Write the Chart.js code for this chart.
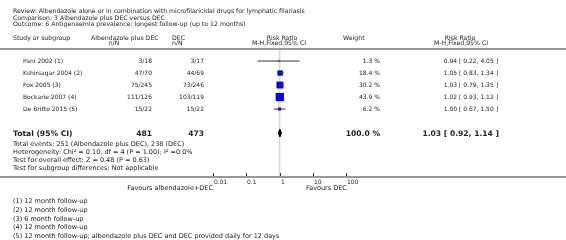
<!DOCTYPE html>
<html lang="en">
<head>
    <meta charset="UTF-8">
    <title>Antigenaemia prevalence forest plot</title>
    <script src="https://cdn.jsdelivr.net/npm/chart.js"></script>
    <style>
        body {
        margin: 0;
        padding: 0;
        background: #fff;
        }
        #wrap {
        position: relative;
        width: 566px;
        height: 240px;
        overflow: hidden;
        font-family: "DejaVu Sans", sans-serif;
        color: #222;
        }
        #plot {
        position: absolute;
        left: 0;
        top: 0;
        }
        .t {
        position: absolute;
        white-space: nowrap;
        font-size: 6px;
        line-height: 8px;
        }
        .h {
        font-size: 6.2px;
        }
        .s {
        font-size: 6.5px;
        }
        .b {
        font-size: 7.6px;
        font-weight: bold;
        line-height: 10px;
        }
    </style>
</head>
<body>
<div id="wrap">
    <canvas id="plot" width="566" height="240"></canvas>
</div>

<script>
    // study rows
    const studies = ['Pani 2002 (1)', 'Kshirsagar 2004 (2)', 'Fox 2005 (3)', 'Bockarie 2007 (4)', 'De Britto 2015 (5)'];
    const albEvents = [3, 47, 75, 111, 15];
    const albTotal = [18, 70, 245, 126, 22];
    const decEvents = [3, 44, 73, 103, 15];
    const decTotal = [17, 69, 246, 119, 22];
    const weights = [1.3, 18.4, 30.2, 43.9, 6.2];
    const ratios = [0.94, 1.05, 1.03, 1.02, 1.00];
    const ciLow = [0.22, 0.83, 0.79, 0.93, 0.67];
    const ciHigh = [4.05, 1.34, 1.35, 1.12, 1.50];

    // pooled result
    const totalAlb = 481;
    const totalDec = 473;
    const totalWeight = 100.0;
    const pooledRatio = 1.03;
    const pooledLow = 0.92;
    const pooledHigh = 1.14;

    const tickValues = [0.01, 0.1, 1, 10, 100];
    const tickLabels = ['0.01', '0.1', '1', '10', '100'];

    const headerLines = [
        'Review:  Albendazole alone or in combination with microfilaricidal drugs for lymphatic filariasis',
        'Comparison:  3 Albendazole plus DEC versus DEC',
        'Outcome:  6 Antigenaemia prevalence: longest follow-up (up to 12 months)'
    ];
    const summaryLines = [
        'Total events: 251 (Albendazole plus DEC), 238 (DEC)',
        'Heterogeneity: Chi² = 0.10, df = 4 (P = 1.00); I² =0.0%',
        'Test for overall effect: Z = 0.48 (P = 0.63)',
        'Test for subgroup differences: Not applicable'
    ];
    const footnotes = [
        '(1) 12 month follow-up',
        '(2) 12 month follow-up',
        '(3) 6 month follow-up',
        '(4) 12 month follow-up',
        '(5) 12 month follow-up; albendazole plus DEC and DEC provided daily for 12 days'
    ];

    const studyRows = studies.map((s, i) => i + 1);
    const totalRow = studies.length + 2;
    const fmt2 = v => v.toFixed(2);

    // square side grows with sqrt of weight
    const squareRadius = weights.map(w => 1.25 * Math.sqrt(w) / Math.SQRT2);

    const datasets = [];
    studies.forEach((s, i) => {
        datasets.push({
        type: 'line',
        data: [{x: ciLow[i], y: studyRows[i]}, {x: ciHigh[i], y: studyRows[i]}],
        borderColor: '#333',
        borderWidth: 1,
        pointRadius: 0,
        order: 1
        });
    });
    datasets.push({
        type: 'scatter',
        data: studies.map((s, i) => ({x: ratios[i], y: studyRows[i]})),
        pointStyle: 'rect',
        pointRadius: squareRadius,
        backgroundColor: '#0000ff',
        borderWidth: 0,
        order: 2
    });
    // diamond for the pooled estimate
    datasets.push({
        type: 'line',
        data: [
        {x: pooledLow, y: totalRow},
        {x: pooledRatio, y: totalRow - 0.33},
        {x: pooledHigh, y: totalRow},
        {x: pooledRatio, y: totalRow + 0.33},
        {x: pooledLow, y: totalRow}
        ],
        borderColor: '#000',
        backgroundColor: '#000',
        borderWidth: 1,
        pointRadius: 0,
        fill: 'shape',
        order: 1
    });

    const decor = {
        id: 'decor',
        beforeDatasetsDraw(chart) {
        const c = chart.ctx, x = chart.scales.x, a = chart.chartArea;
        const px = x.getPixelForValue(1);
        c.save();
        c.strokeStyle = '#dcdcdc';
        c.lineWidth = 2;
        c.beginPath();
        c.moveTo(px, a.top);
        c.lineTo(px, a.bottom);
        c.stroke();
        c.restore();
        },
        afterDraw(chart) {
        const c = chart.ctx, x = chart.scales.x, a = chart.chartArea;
        c.save();
        c.strokeStyle = '#999';
        c.lineWidth = 2;
        c.beginPath();
        c.moveTo(0, 49);
        c.lineTo(566, 49);
        c.moveTo(0, a.bottom + 1);
        c.lineTo(566, a.bottom + 1);
        c.stroke();
        c.strokeStyle = '#333';
        c.lineWidth = 1;
        c.beginPath();
        tickValues.forEach(t => {
            const px = Math.round(x.getPixelForValue(t)) + 0.5;
            c.moveTo(px, a.bottom - 3);
            c.lineTo(px, a.bottom);
        });
        c.stroke();
        c.restore();
        }
    };

    const chart = new Chart(document.getElementById('plot'), {
        type: 'scatter',
        data: { datasets: datasets },
        options: {
        responsive: false,
        animation: false,
        layout: { padding: { left: 213, right: 220, top: 50, bottom: 64 } },
        scales: {
            x: { type: 'logarithmic', min: 0.01, max: 100, display: false },
            y: { type: 'linear', min: 0.08, max: 10.58, reverse: true, display: false }
        },
        plugins: { legend: { display: false }, tooltip: { enabled: false } }
        },
        plugins: [decor]
    });

    // text laid out as html over the canvas
    const wrap = document.getElementById('wrap');
    function addText(txt, x, y, align, cls) {
        const d = document.createElement('div');
        d.className = 't' + (cls ? ' ' + cls : '');
        d.textContent = txt;
        const lh = cls === 'b' ? 10 : 8;
        d.style.top = (y - lh / 2) + 'px';
        if (align === 'right') {
        d.style.right = (566 - x) + 'px';
        } else if (align === 'center') {
        d.style.left = (x - 150) + 'px';
        d.style.width = '300px';
        d.style.textAlign = 'center';
        } else {
        d.style.left = x + 'px';
        }
        wrap.appendChild(d);
    }

    headerLines.forEach((h, i) => addText(h, 13, 11 + i * 6.6, 'left', 'h'));
    addText('Study or subgroup', 13, 38, 'left', 'h');
    addText('Albendazole plus DEC', 91, 38, 'left', 'h');
    addText('n/N', 114, 43, 'center', 'h');
    addText('DEC', 172, 38, 'left', 'h');
    addText('n/N', 172, 43, 'left', 'h');
    addText('Risk Ratio', 282, 38, 'center', 'h');
    addText('M-H,Fixed,95% CI', 279, 43, 'center', 'h');
    addText('Weight', 343, 38, 'left', 'h');
    addText('Risk Ratio', 460, 38, 'center', 'h');
    addText('M-H,Fixed,95% CI', 461, 43, 'center', 'h');

    const ys = chart.scales.y;
    studies.forEach((s, i) => {
        const py = ys.getPixelForValue(studyRows[i]);
        addText(s, 23, py, 'left');
        addText(albEvents[i] + '/' + albTotal[i], 152, py, 'right');
        addText(decEvents[i] + '/' + decTotal[i], 204, py, 'right');
        addText(weights[i].toFixed(1) + ' %', 380, py, 'right');
        addText(fmt2(ratios[i]) + ' [ ' + fmt2(ciLow[i]) + ', ' + fmt2(ciHigh[i]) + ' ]', 498, py, 'right');
    });

    const ty = ys.getPixelForValue(totalRow) + 1;
    addText('Total (95% CI)', 13, ty, 'left', 'b');
    addText(String(totalAlb), 152, ty, 'right', 'b');
    addText(String(totalDec), 204, ty, 'right', 'b');
    addText(totalWeight.toFixed(1) + ' %', 380, ty, 'right', 'b');
    addText(fmt2(pooledRatio) + ' [ ' + fmt2(pooledLow) + ', ' + fmt2(pooledHigh) + ' ]', 499, ty, 'right', 'b');

    summaryLines.forEach((s, i) => addText(s, 13, 144 + i * 8, 'left', 's'));

    const xs = chart.scales.x;
    tickValues.forEach((t, i) => addText(tickLabels[i], Math.round(xs.getPixelForValue(t)) + 1, 182, 'left'));
    addText('Favours albendazole+DEC', 213, 188, 'right', 's');
    addText('Favours DEC', 306, 188, 'left', 's');

    footnotes.forEach((f, i) => addText(f, 13, 201 + i * 8.8, 'left', 's'));
</script>
</body>
</html>
